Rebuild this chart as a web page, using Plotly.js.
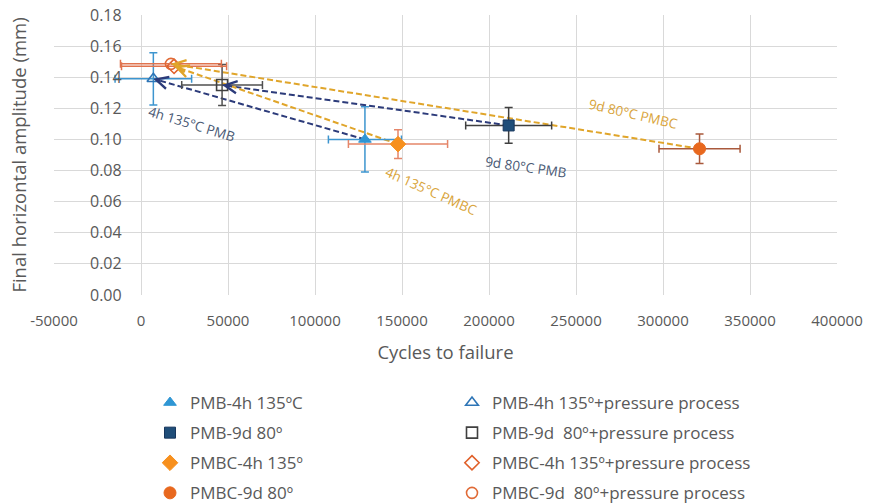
<!DOCTYPE html>
<html>
<head>
<meta charset="utf-8">
<script src="https://cdn.plot.ly/plotly-3.0.1.min.js"></script>
<style>
  html, body { margin: 0; padding: 0; background: #ffffff; }
  #chart { width: 872px; height: 504px; }
</style>
</head>
<body>
<div id="chart"></div>
<script>
// Cycles to failure (x) and final horizontal amplitude in mm (y), with error half-widths.
const pmb4hX = [128700],   pmb4hY = [0.100],   pmb4hXErr = [21000],   pmb4hYErr = [0.021];
const pmb4hPX = [7100],    pmb4hPY = [0.139],  pmb4hPXErr = [22000],  pmb4hPYErr = [0.0168];
const pmb9dX = [211300],   pmb9dY = [0.109],   pmb9dXErr = [24700],   pmb9dYErr = [0.0115];
const pmb9dPX = [46600],   pmb9dPY = [0.135],  pmb9dPXErr = [23200],  pmb9dPYErr = [0.0132];
const pmbc4hX = [147700],  pmbc4hY = [0.097],  pmbc4hXErr = [28500],  pmbc4hYErr = [0.0093];
const pmbc4hPX = [19000],  pmbc4hPY = [0.147], pmbc4hPXErr = [30200], pmbc4hPYErr = [0];
const pmbc9dX = [321000],  pmbc9dY = [0.094],  pmbc9dXErr = [23300],  pmbc9dYErr = [0.0095];
const pmbc9dPX = [17200],  pmbc9dPY = [0.1486], pmbc9dPXErr = [29000], pmbc9dPYErr = [0];

const seriesNames = [
  'PMB-4h 135ºC', 'PMB-4h 135º+pressure process',
  'PMB-9d 80º', 'PMB-9d\u00a0 80º+pressure process',
  'PMBC-4h 135º', 'PMBC-4h 135º+pressure process',
  'PMBC-9d 80º', 'PMBC-9d\u00a0 80º+pressure process'
];

// Arrow labels (condition, binder)
const arrowLabels = ['4h 135°C PMB', '9d 80°C PMB', '4h 135°C PMBC', '9d 80°C PMBC'];

// Axis ticks
const xTickVals = [-50000, 0, 50000, 100000, 150000, 200000, 250000, 300000, 350000, 400000];
const xTickText = ['-50000', '0', '50000', '100000', '150000', '200000', '250000', '300000', '350000', '400000'];

const NAVY = '#2c3b7a';
const GOLD = '#e0a52a';
const TXT = '#595959';
const FONT = 'Open Sans, Liberation Sans, sans-serif';

// plot-area pixel geometry, used to place the legends in paper units
const PLOT_L = 54, PLOT_W = 783, PLOT_B = 295, PLOT_H = 280;
const pxToPaperX = px => (px - PLOT_L) / PLOT_W;
const pxToPaperY = py => (PLOT_B - py) / PLOT_H;

function pointTrace(name, x, y, ex, ey, sym, size, fill, line, lw, errColor, legend, group) {
  return {
    type: 'scatter', mode: 'markers', name: name, x: x, y: y,
    legend: legend, legendgroup: group,
    marker: { symbol: sym, size: size, color: fill, line: { color: line, width: lw } },
    error_x: { type: 'data', array: ex, visible: true, color: errColor, thickness: 1.5, width: 4 },
    error_y: { type: 'data', array: ey, visible: ey[0] > 0, color: errColor, thickness: 1.5, width: 4 },
    hoverinfo: 'x+y+name'
  };
}

// Dashed connector from the plain-cured point to its pressure-processed counterpart
function connector(x0, y0, x1, y1, color) {
  return {
    type: 'scatter', mode: 'lines', x: [x0[0], x1[0]], y: [y0[0], y1[0]],
    line: { color: color, width: 2, dash: '6px,3px' },
    showlegend: false, hoverinfo: 'skip'
  };
}

const traces = [
  connector(pmb4hX, pmb4hY, pmb4hPX, pmb4hPY, NAVY),
  connector(pmb9dX, pmb9dY, pmb9dPX, pmb9dPY, NAVY),
  connector(pmbc4hX, pmbc4hY, pmbc4hPX, pmbc4hPY, GOLD),
  connector(pmbc9dX, pmbc9dY, pmbc9dPX, pmbc9dPY, GOLD),

  pointTrace(seriesNames[0], pmb4hX, pmb4hY, pmb4hXErr, pmb4hYErr, 'triangle-up', 11, '#2f96d4', '#2f96d4', 1, '#3d95cf', 'legend', 'g1'),
  pointTrace(seriesNames[2], pmb9dX, pmb9dY, pmb9dXErr, pmb9dYErr, 'square', 11, '#1f4e79', '#17365d', 1, '#3f3f3f', 'legend', 'g2'),
  pointTrace(seriesNames[4], pmbc4hX, pmbc4hY, pmbc4hXErr, pmbc4hYErr, 'diamond', 12, '#f7901e', '#f7901e', 1, '#e5866a', 'legend', 'g3'),
  pointTrace(seriesNames[6], pmbc9dX, pmbc9dY, pmbc9dXErr, pmbc9dYErr, 'circle', 12, '#e8681e', '#e8681e', 1, '#a9593c', 'legend', 'g4'),

  pointTrace(seriesNames[1], pmb4hPX, pmb4hPY, pmb4hPXErr, pmb4hPYErr, 'triangle-up-open', 11, '#2e75b6', '#2e75b6', 1.6, '#3d95cf', 'legend2', 'h1'),
  pointTrace(seriesNames[3], pmb9dPX, pmb9dPY, pmb9dPXErr, pmb9dPYErr, 'square-open', 11, '#404040', '#404040', 1.6, '#505050', 'legend2', 'h2'),
  pointTrace(seriesNames[5], pmbc4hPX, pmbc4hPY, pmbc4hPXErr, pmbc4hPYErr, 'diamond-open', 11, '#e0602a', '#e0602a', 1.6, '#e0734e', 'legend2', 'h3'),
  pointTrace(seriesNames[7], pmbc9dPX, pmbc9dPY, pmbc9dPXErr, pmbc9dPYErr, 'circle-open', 11, '#e06a36', '#e06a36', 1.6, '#e0734e', 'legend2', 'h4')
];

// Arrowheads: a short stub ending at the pressure-processed point
function arrowHead(x0, y0, x1, y1, color) {
  const f = 0.04;
  return {
    x: x1[0], y: y1[0], xref: 'x', yref: 'y',
    ax: x1[0] + f * (x0[0] - x1[0]), ay: y1[0] + f * (y0[0] - y1[0]), axref: 'x', ayref: 'y',
    showarrow: true, arrowhead: 5, arrowsize: 1.5, arrowwidth: 1.6, arrowcolor: color, text: ''
  };
}

function label(text, x, y, angle, color) {
  return {
    text: text, x: x, y: y, xref: 'x', yref: 'y', showarrow: false, textangle: angle,
    font: { family: FONT, size: 13.5, color: color }
  };
}

const annotations = [
  arrowHead(pmb4hX, pmb4hY, pmb4hPX, pmb4hPY, NAVY),
  arrowHead(pmb9dX, pmb9dY, pmb9dPX, pmb9dPY, NAVY),
  arrowHead(pmbc4hX, pmbc4hY, pmbc4hPX, pmbc4hPY, GOLD),
  arrowHead(pmbc9dX, pmbc9dY, pmbc9dPX, pmbc9dPY, GOLD),
  label(arrowLabels[0], 29300, 0.110, 17, '#4a5a75'),
  label(arrowLabels[1], 221300, 0.0823, 8, '#4a5a75'),
  label(arrowLabels[2], 166700, 0.0669, 24, '#d9a43a'),
  label(arrowLabels[3], 283300, 0.1164, 13, '#d9a43a')
];

const legendCommon = {
  xanchor: 'left', yanchor: 'top', orientation: 'v', tracegroupgap: 5,
  font: { family: FONT, size: 17, color: TXT }, bgcolor: 'rgba(0,0,0,0)'
};

const layout = {
  width: 872, height: 504,
  margin: { l: 54, r: 35, t: 15, b: 209, autoexpand: false },
  paper_bgcolor: '#ffffff', plot_bgcolor: '#ffffff',
  font: { family: FONT, color: TXT },
  showlegend: true,
  xaxis: {
    range: [-50000, 400000], tickvals: xTickVals, ticktext: xTickText,
    showgrid: true, gridcolor: '#d9d9d9', gridwidth: 1, zeroline: false,
    showline: false, ticks: '', ticklabelstandoff: 15, automargin: false,
    tickfont: { family: FONT, size: 15, color: TXT },
    title: { text: 'Cycles to failure', font: { family: FONT, size: 18.5, color: TXT }, standoff: 17 }
  },
  yaxis: {
    range: [0, 0.18], dtick: 0.02, tickformat: '.2f',
    showgrid: true, gridcolor: '#d9d9d9', gridwidth: 1, zeroline: false,
    showline: false, ticks: '', ticklabelposition: 'inside', ticklabelstandoff: 33,
    ticklabeloverflow: 'allow', automargin: false,
    tickfont: { family: FONT, size: 16, color: TXT },
    title: { text: 'Final horizontal amplitude (mm)', font: { family: FONT, size: 18.5, color: TXT }, standoff: 58 }
  },
  legend: Object.assign({ x: pxToPaperX(150), y: pxToPaperY(385) }, legendCommon),
  legend2: Object.assign({ x: pxToPaperX(452), y: pxToPaperY(385) }, legendCommon),
  annotations: annotations
};

Plotly.newPlot('chart', traces, layout, { displayModeBar: false, staticPlot: true });
</script>
</body>
</html>
